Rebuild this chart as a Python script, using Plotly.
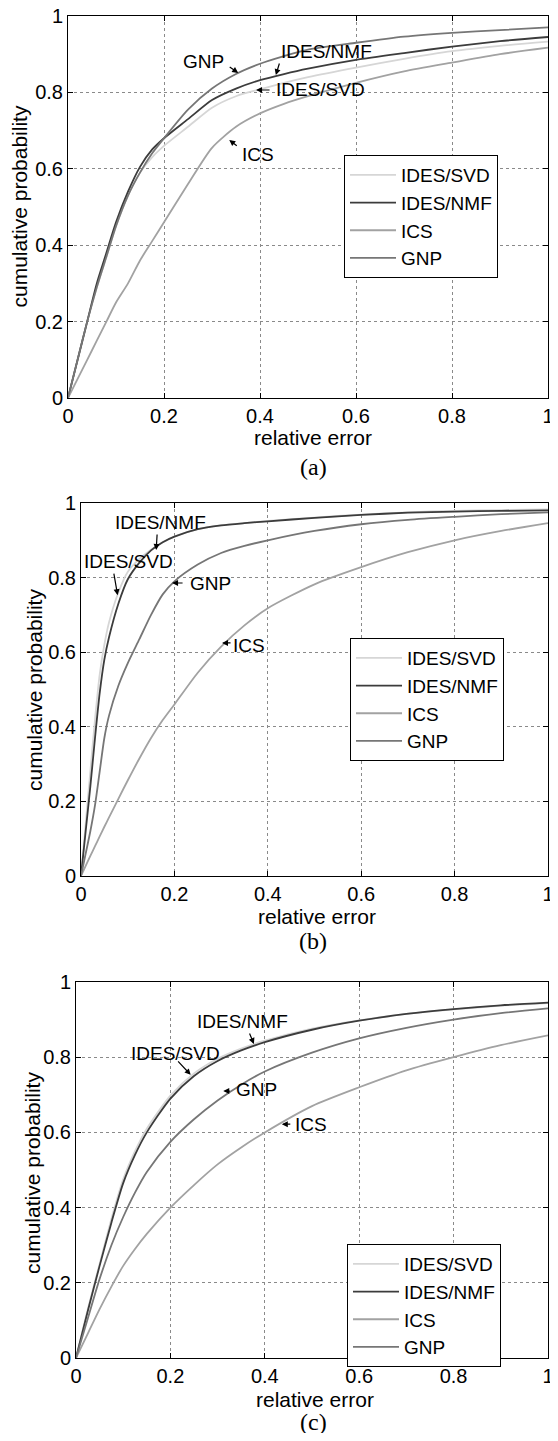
import plotly.graph_objects as go

# ---------------- data ----------------
series_names = ["IDES/SVD", "IDES/NMF", "ICS", "GNP"]
tick_vals = [0, 0.2, 0.4, 0.6, 0.8, 1]
tick_text = ["0", "0.2", "0.4", "0.6", "0.8", "1"]
panel_captions = ["(a)", "(b)", "(c)"]

# panel (a)
err_a = [0, 0.02, 0.04, 0.06, 0.08, 0.1, 0.125, 0.15, 0.175, 0.2, 0.25, 0.3,
         0.35, 0.4, 0.45, 0.5, 0.6, 0.7, 0.8, 0.9, 1.0]
svd_a = [0, 0.10, 0.20, 0.29, 0.37, 0.45, 0.53, 0.59, 0.63, 0.66, 0.71, 0.76,
         0.79, 0.808, 0.825, 0.84, 0.865, 0.888, 0.908, 0.922, 0.933]
nmf_a = [0, 0.10, 0.20, 0.30, 0.38, 0.46, 0.54, 0.605, 0.65, 0.68, 0.73, 0.78,
         0.81, 0.832, 0.848, 0.862, 0.885, 0.903, 0.92, 0.934, 0.945]
ics_a = [0, 0.05, 0.10, 0.15, 0.20, 0.25, 0.30, 0.36, 0.41, 0.46, 0.56, 0.655,
         0.71, 0.745, 0.77, 0.79, 0.825, 0.855, 0.878, 0.90, 0.917]
gnp_a = [0, 0.10, 0.20, 0.29, 0.37, 0.45, 0.53, 0.59, 0.64, 0.68, 0.755, 0.81,
         0.848, 0.875, 0.895, 0.912, 0.93, 0.946, 0.956, 0.963, 0.97]

# panel (b)
err_b = [0, 0.01, 0.02, 0.03, 0.04, 0.05, 0.06, 0.08, 0.1, 0.125, 0.15, 0.175,
         0.2, 0.25, 0.3, 0.35, 0.4, 0.5, 0.6, 0.7, 0.8, 0.9, 1.0]
svd_b = [0, 0.14, 0.28, 0.42, 0.54, 0.62, 0.68, 0.76, 0.815, 0.85, 0.875, 0.895,
         0.91, 0.93, 0.94, 0.946, 0.952, 0.961, 0.969, 0.975, 0.979, 0.981, 0.983]
nmf_b = [0, 0.12, 0.24, 0.37, 0.49, 0.58, 0.64, 0.73, 0.795, 0.84, 0.873, 0.895,
         0.91, 0.93, 0.94, 0.946, 0.951, 0.96, 0.968, 0.974, 0.977, 0.979, 0.98]
ics_b = [0, 0.027, 0.054, 0.08, 0.106, 0.132, 0.157, 0.207, 0.256, 0.315, 0.37, 0.418,
         0.46, 0.545, 0.615, 0.672, 0.718, 0.782, 0.828, 0.868, 0.90, 0.925, 0.946]
gnp_b = [0, 0.06, 0.12, 0.19, 0.28, 0.37, 0.43, 0.51, 0.57, 0.635, 0.70, 0.755,
         0.79, 0.835, 0.866, 0.885, 0.90, 0.925, 0.943, 0.955, 0.963, 0.97, 0.975]

# panel (c)
err_c = [0, 0.025, 0.05, 0.075, 0.1, 0.125, 0.15, 0.2, 0.25, 0.3, 0.35, 0.4,
         0.5, 0.6, 0.7, 0.8, 0.9, 1.0]
svd_c = [0, 0.13, 0.25, 0.37, 0.475, 0.55, 0.61, 0.698, 0.757, 0.796, 0.823, 0.844,
         0.876, 0.898, 0.915, 0.927, 0.937, 0.944]
nmf_c = [0, 0.125, 0.245, 0.36, 0.465, 0.54, 0.60, 0.69, 0.75, 0.79, 0.818, 0.84,
         0.873, 0.897, 0.915, 0.928, 0.938, 0.945]
ics_c = [0, 0.065, 0.13, 0.19, 0.245, 0.29, 0.33, 0.40, 0.46, 0.515, 0.56, 0.60,
         0.67, 0.72, 0.765, 0.80, 0.832, 0.858]
gnp_c = [0, 0.105, 0.21, 0.30, 0.375, 0.44, 0.495, 0.575, 0.635, 0.685, 0.727, 0.762,
         0.812, 0.85, 0.878, 0.90, 0.917, 0.93]

panels = [
    (err_a, [svd_a, nmf_a, ics_a, gnp_a]),
    (err_b, [svd_b, nmf_b, ics_b, gnp_b]),
    (err_c, [svd_c, nmf_c, ics_c, gnp_c]),
]

# ---------------- styling ----------------
PAGE_W, PAGE_H = 558, 1441
BODY = 8  # default page margin around the plot div
W, H = PAGE_W - 2 * BODY, PAGE_H - 2 * BODY
colors = ["#d6d6d6", "#3c3c3c", "#a2a2a2", "#767676"]
FONT = "Liberation Sans, Arial, Helvetica, sans-serif"
SERIF = "Liberation Serif, Times New Roman, serif"

# plot areas in page pixels: (left, right, top, bottom)
boxes = [(68, 548, 16, 398), (81, 548, 503, 876), (76, 548, 982, 1358)]
legend_pos = [(344, 155), (350, 638), (347, 1244)]
xtitle_pos = [(313, 437), (317, 916), (315, 1399)]
ytitle_pos = [(18.5, 207), (34, 690), (32, 1173)]
caption_pos = [(313, 467), (313, 941), (313, 1422)]


def px2paper_x(p):
    return min(1.0, max(0.0, (p - BODY) / W))


def px2paper_y(p):
    return min(1.0, max(0.0, 1 - (p - BODY) / H))


fig = go.Figure()
layout = dict(
    width=W, height=H,
    margin=dict(l=0, r=0, t=0, b=0),
    paper_bgcolor="white", plot_bgcolor="white",
    font=dict(family=FONT, size=20, color="black"),
    showlegend=True,
)

annotations = []
for i, (xs, ys_list) in enumerate(panels):
    n = "" if i == 0 else str(i + 1)
    xa, ya = "x" + n, "y" + n
    lg = "legend" + n
    for name, ys, col in zip(series_names, ys_list, colors):
        fig.add_trace(go.Scatter(
            x=xs, y=ys, mode="lines", name=name,
            line=dict(color=col, width=1.8, shape="spline", smoothing=0.7),
            xaxis=xa, yaxis=ya, legend=lg,
        ))
    l, r, t, b = boxes[i]
    axis_common = dict(
        range=[0, 1], tickvals=tick_vals, ticktext=tick_text,
        showline=True, linecolor="black", linewidth=1, mirror="ticks",
        ticks="inside", ticklen=5, tickcolor="black",
        showgrid=True, gridcolor="#8a8a8a", griddash="dot", gridwidth=1,
        zeroline=False, tickfont=dict(family=FONT, size=20, color="black"),
        fixedrange=True, ticklabeloverflow="allow", automargin=False,
    )
    layout["xaxis" + n] = dict(axis_common, domain=[px2paper_x(l), px2paper_x(r)],
                               anchor=ya)
    layout["yaxis" + n] = dict(axis_common, domain=[px2paper_y(b), px2paper_y(t)],
                               anchor=xa)
    lx, ly = legend_pos[i]
    layout[lg] = dict(
        x=px2paper_x(lx), y=px2paper_y(ly), xanchor="left", yanchor="top",
        bgcolor="white", bordercolor="black", borderwidth=1,
        font=dict(family=FONT, size=19, color="black"),
        tracegroupgap=0, itemwidth=46,
    )
    tx, ty = xtitle_pos[i]
    annotations.append(dict(text="relative error", x=px2paper_x(tx), y=px2paper_y(ty),
                            xref="paper", yref="paper", showarrow=False,
                            xanchor="center", yanchor="middle",
                            font=dict(family=FONT, size=21)))
    yx, yy = ytitle_pos[i]
    annotations.append(dict(text="cumulative probability", x=px2paper_x(yx),
                            y=px2paper_y(yy), xref="paper", yref="paper",
                            showarrow=False, textangle=-90,
                            xanchor="center", yanchor="middle",
                            font=dict(family=FONT, size=21)))
    cx, cy = caption_pos[i]
    annotations.append(dict(text=panel_captions[i], x=px2paper_x(cx), y=px2paper_y(cy),
                            xref="paper", yref="paper", showarrow=False,
                            xanchor="center", yanchor="middle",
                            font=dict(family=SERIF, size=24)))

# curve labels: (panel, text, text_x, text_y, head_x, head_y, tail_dx, tail_dy)
labels = [
    (0, "GNP", 0.2825, 0.8796, 0.3546, 0.8508, -10, -7),
    (0, "IDES/NMF", 0.538, 0.9058, 0.433, 0.8455, 4, -13),
    (0, "IDES/SVD", 0.5258, 0.8063, 0.3918, 0.8063, 15, 0),
    (0, "ICS", 0.3959, 0.6387, 0.336, 0.6754, 9, 7),
    (1, "IDES/NMF", 0.1695, 0.949, 0.161, 0.874, 1, -17),
    (1, "IDES/SVD", 0.1017, 0.842, 0.0784, 0.753, -4, -23),
    (1, "GNP", 0.2775, 0.7855, 0.195, 0.7855, 12, 0),
    (1, "ICS", 0.36, 0.619, 0.302, 0.625, 10, 0),
    (2, "IDES/NMF", 0.352, 0.894, 0.377, 0.835, -5, -12),
    (2, "IDES/SVD", 0.21, 0.811, 0.243, 0.753, -14, -15),
    (2, "GNP", 0.382, 0.715, 0.312, 0.71, 8, 0),
    (2, "ICS", 0.497, 0.62, 0.436, 0.622, 10, 0),
]
for p, txt, tx, ty, hx, hy, adx, ady in labels:
    n = "" if p == 0 else str(p + 1)
    annotations.append(dict(text=txt, x=tx, y=ty, xref="x" + n, yref="y" + n,
                            showarrow=False, xanchor="center", yanchor="middle",
                            font=dict(family=FONT, size=19)))
    annotations.append(dict(text="", x=hx, y=hy, xref="x" + n, yref="y" + n,
                            showarrow=True, ax=adx, ay=ady, arrowhead=2,
                            arrowsize=1, arrowwidth=1.2, arrowcolor="black",
                            standoff=0, startstandoff=0))

layout["annotations"] = annotations
fig.update_layout(**layout)
fig.write_html("out.html")
